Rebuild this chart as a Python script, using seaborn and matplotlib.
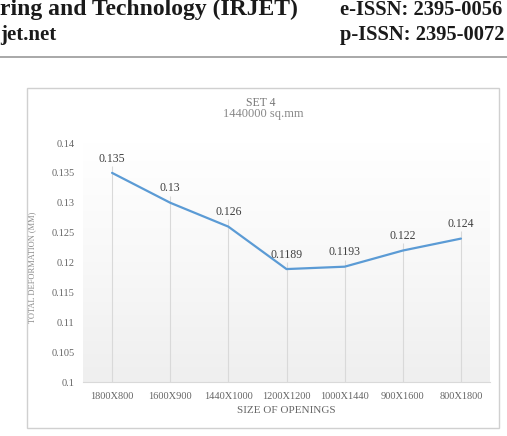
import numpy as np
import matplotlib.pyplot as plt
import pandas as pd
import seaborn as sns
from matplotlib.patches import Rectangle
from matplotlib.lines import Line2D
from matplotlib.colors import LinearSegmentedColormap

# data
openings = ['1800X800', '1600X900', '1440X1000', '1200X1200', '1000X1440', '900X1600', '800X1800']
deformation = [0.135, 0.13, 0.126, 0.1189, 0.1193, 0.122, 0.124]
value_labels = ['0.135', '0.13', '0.126', '0.1189', '0.1193', '0.122', '0.124']
y_ticks = [0.1, 0.105, 0.11, 0.115, 0.12, 0.125, 0.13, 0.135, 0.14]
y_ticklabels = ['0.1', '0.105', '0.11', '0.115', '0.12', '0.125', '0.13', '0.135', '0.14']

df = pd.DataFrame({'opening': openings, 'deformation': deformation})

sns.set_style('white')
plt.rcParams['font.family'] = ['Liberation Serif', 'DejaVu Serif']

W, H = 507, 436
fig = plt.figure(figsize=(W / 100, H / 100), dpi=100)

# page header (cut off on the left, as in the scanned page)
hdr = dict(fontweight='bold', color='#1a1a1a', ha='left', va='baseline')
fig.text(0, 1 - 15 / H, 'ring and Technology (IRJET)', fontsize=17, **hdr)
fig.text(340 / W, 1 - 15 / H, 'e-ISSN: 2395-0056', fontsize=14.8, **hdr)
fig.text(0, 1 - 40 / H, 'jet.net', fontsize=15, **hdr)
fig.text(340 / W, 1 - 40 / H, 'p-ISSN: 2395-0072', fontsize=14.8, **hdr)
fig.add_artist(Line2D([0, 1], [1 - 57 / H, 1 - 57 / H], transform=fig.transFigure,
                      color='#999999', lw=1.2))

# chart frame
fig.add_artist(Rectangle((27 / W, 1 - 428 / H), 472 / W, 340 / H, transform=fig.transFigure,
                         fill=False, edgecolor='#d0d0d0', lw=1))

fig.text(261 / W, 1 - 103 / H, 'SET 4', fontsize=8.5, color='#777777', ha='center', va='center')
fig.text(263 / W, 1 - 114 / H, '1440000 sq.mm', fontsize=9, color='#888888', ha='center', va='center')

ax = fig.add_axes([83 / W, 1 - 382 / H, 407 / W, 239 / H])

# light gradient in the plot area: white at top, pale grey at bottom
grad = np.linspace(0, 1, 100).reshape(-1, 1)
cmap = LinearSegmentedColormap.from_list('bg', ['#ffffff', '#f8f8f8', '#efefef'])
ax.imshow(grad, extent=[0, 1, 0, 1], transform=ax.transAxes, aspect='auto',
          cmap=cmap, vmin=0, vmax=1, origin='upper', zorder=0)

x_pos = np.arange(len(openings))
ax.vlines(x_pos, 0.1, np.array(deformation) + 0.0012, color='#d9d9d9', lw=0.8, zorder=1)

sns.lineplot(data=df, x='opening', y='deformation', sort=False, ax=ax,
             color='#5b9bd5', lw=1.6, zorder=3)

for xi, v, lab in zip(x_pos, deformation, value_labels):
    ax.annotate(lab, (xi, v), xytext=(0, 6), textcoords='offset points',
                ha='center', va='bottom', fontsize=8.5, color='#404040')

ax.set_xlim(-0.5, len(openings) - 0.5)
ax.set_ylim(0.1, 0.14)
ax.set_yticks(y_ticks)
ax.set_yticklabels(y_ticklabels)
ax.tick_params(axis='both', length=0, labelsize=7.5, labelcolor='#666666', pad=6)
ax.tick_params(axis='x', pad=7)
ax.set_xlabel('SIZE OF OPENINGS', fontsize=8, color='#666666', labelpad=4)
ax.set_ylabel('TOTAL DEFORMATION (MM)', fontsize=6, color='#888888', labelpad=3)
ax.yaxis.set_label_coords(-0.115, 0.48)

for s in ['top', 'right', 'left']:
    ax.spines[s].set_visible(False)
ax.spines['bottom'].set_color('#d9d9d9')
ax.spines['bottom'].set_linewidth(0.8)
ax.grid(False)

fig.savefig('out.png', dpi=100)
